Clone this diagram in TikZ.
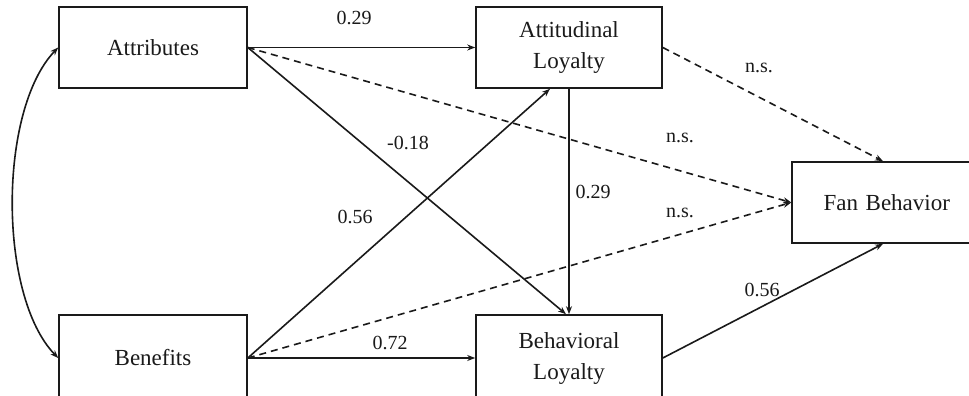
\documentclass[tikz,border=0pt]{standalone}
\usepackage{fontspec}
\setmainfont{Liberation Serif}
\usetikzlibrary{arrows.meta,calc}
\definecolor{ink}{HTML}{1A1A1A}
\tikzset{
  box/.style={draw=ink, line width=1.6pt, fill=white, inner sep=0pt, align=center,
    font=\fontsize{23}{31}\selectfont, text=ink},
  lab/.style={font=\fontsize{20}{22}\selectfont, text=ink, inner sep=1pt},
  path/.style={draw=ink, line width=1.6pt, -{Stealth[length=8pt,width=6pt]}},
  nspath/.style={path, dash pattern=on 7pt off 5pt},
}
\begin{document}
\begin{tikzpicture}[x=1pt,y=-1pt]
\useasboundingbox (0,0) rectangle (969,396);
\clip (0,0) rectangle (969,396);
\fill[white] (0,0) rectangle (969,396);
% boxes
\node[box, minimum width=188pt, minimum height=81pt] (attr) at (153,47.5) {Attributes};
\node[box, minimum width=188pt, minimum height=86pt] (ben) at (153,358) {Benefits};
\node[box, minimum width=186pt, minimum height=81pt] (att) at (569,47.5) {Attitudinal\\Loyalty};
\node[box, minimum width=186pt, minimum height=86pt] (beh) at (569,358) {Behavioral\\Loyalty};
\node[box, minimum width=240pt, minimum height=81pt, text width=240pt, align=left] (fan) at (912,202.5) {\hspace*{31.5pt}Fan Behavior};
% connectors
\draw[path] (attr.east) -- (att.west);
\draw[nspath] (attr.east) -- (fan.west);
\draw[path] (attr.east) -- ($(beh.north)+(-3,0)$);
\draw[path] (ben.east) -- ($(att.south)+(-19,0)$);
\draw[nspath] (ben.east) -- (fan.west);
\draw[path] (ben.east) -- (beh.west);
\draw[path] (att.south) -- (beh.north);
\draw[nspath] (att.east) -- ($(fan.north)+(-29,0)$);
\draw[path] (beh.east) -- ($(fan.south)+(-29,0)$);
\draw[draw=ink, line width=1.6pt, {Stealth[length=8pt,width=6pt]}-{Stealth[length=8pt,width=6pt]}]
  (attr.west) .. controls (-2,110) and (-2,296) .. (ben.west);
% labels
\node[lab] (l1) at (354,18) {0.29};
\node[lab] (l2) at (408,143) {-0.18};
\node[lab] (l3) at (355,217) {0.56};
\node[lab] (l4) at (390,343) {0.72};
\node[lab] (l5) at (593,192) {0.29};
\node[lab] (l6) at (759,68) {n.s.};
\node[lab] (l7) at (680,138) {n.s.};
\node[lab] (l8) at (680,213) {n.s.};
\node[lab] (l9) at (762,290) {0.56};
\end{tikzpicture}
\end{document}
